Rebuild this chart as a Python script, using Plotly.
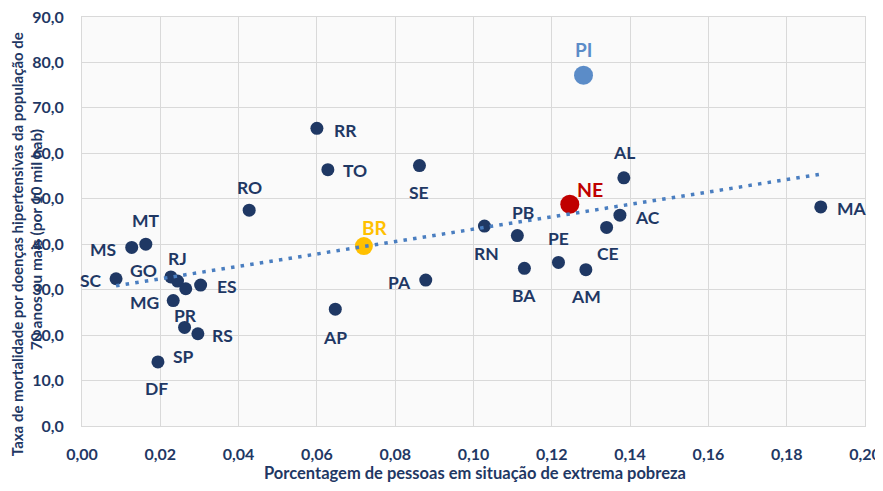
import numpy as np
import plotly.graph_objects as go

# ---- data ----
states = ["SC", "MS", "MT", "GO", "RJ", "PR", "ES", "MG", "SP", "RS", "DF",
          "RO", "RR", "TO", "AP", "SE", "PA", "RN", "PB", "BA", "PE", "AM",
          "CE", "AC", "AL", "MA", "PI"]
poverty = [0.0087, 0.0127, 0.0163, 0.0227, 0.0244, 0.0265, 0.0303, 0.0233, 0.0262, 0.0296, 0.0194,
           0.0427, 0.0600, 0.0628, 0.0647, 0.0862, 0.0878, 0.1028, 0.1112, 0.1130, 0.1217, 0.1287,
           0.1340, 0.1374, 0.1384, 0.1887, 0.1281]
mortality = [32.4, 39.3, 40.0, 32.8, 31.9, 30.2, 31.0, 27.6, 21.7, 20.3, 14.1,
             47.5, 65.5, 56.4, 25.7, 57.3, 32.1, 44.0, 41.9, 34.7, 36.0, 34.4,
             43.7, 46.4, 54.6, 48.2, 77.2]
ne_label, ne_x, ne_y = "NE", 0.1246, 48.8
br_label, br_x, br_y = "BR", 0.0720, 39.6

x_ticks = [0.00, 0.02, 0.04, 0.06, 0.08, 0.10, 0.12, 0.14, 0.16, 0.18, 0.20]
y_ticks = [0, 10, 20, 30, 40, 50, 60, 70, 80, 90]

# ---- styles ----
NAVY = "#1F3864"
PI_COL = "#5B8CC8"
NE_COL = "#C00000"
BR_COL = "#FFC000"
TREND_COL = "#4A7EC0"
FONT = "Lato"

# label offsets in screen pixels (dx right, dy down)
label_offset = {
    "SC": (-25, 2), "MS": (-29, 2), "MT": (0, -24), "GO": (-27, -6), "RJ": (0, -23),
    "PR": (0, 27), "ES": (26, 1), "MG": (-29, 2), "SP": (-1, 29), "RS": (25, 2),
    "DF": (-1, 27), "RO": (0, -23), "RR": (29, 2), "TO": (27, 1), "AP": (0, 28),
    "SE": (0, 27), "PA": (-26, 2), "RN": (2, 27), "PB": (6, -23), "BA": (0, 27),
    "PE": (0, -24), "AM": (0, 27), "CE": (1, 26), "AC": (28, 2), "AL": (0, -25),
    "MA": (31, 2), "PI": (0, -26),
}

fig = go.Figure()

colors = [PI_COL if s == "PI" else NAVY for s in states]
sizes = [19 if s == "PI" else 13 for s in states]
fig.add_trace(go.Scatter(x=poverty, y=mortality, mode="markers",
                         marker=dict(color=colors, size=sizes, opacity=1, line=dict(width=0)),
                         showlegend=False, hoverinfo="skip"))
fig.add_trace(go.Scatter(x=[ne_x], y=[ne_y], mode="markers",
                         marker=dict(color=NE_COL, size=19, opacity=1, line=dict(width=0)),
                         showlegend=False))
fig.add_trace(go.Scatter(x=[br_x], y=[br_y], mode="markers",
                         marker=dict(color=BR_COL, size=18, opacity=1, line=dict(width=0)),
                         showlegend=False))

# linear trendline over the states
slope, intercept = np.polyfit(poverty, mortality, 1)
tx = [min(poverty), max(poverty)]
ty = [slope * v + intercept for v in tx]
fig.add_trace(go.Scatter(x=tx, y=ty, mode="lines",
                         line=dict(color=TREND_COL, width=3.5, dash="3.5px,6.2px"),
                         showlegend=False, hoverinfo="skip"))

annotations = []
for s, xv, yv in zip(states, poverty, mortality):
    dx, dy = label_offset[s]
    big = s == "PI"
    annotations.append(dict(x=xv, y=yv, xref="x", yref="y", text=s, showarrow=False,
                            xshift=dx, yshift=-dy,
                            font=dict(family=FONT, size=19 if big else 17.5,
                                      color=PI_COL if big else NAVY, weight="bold")))
annotations.append(dict(x=ne_x, y=ne_y, xref="x", yref="y", text=ne_label, showarrow=False,
                        xshift=20, yshift=15,
                        font=dict(family=FONT, size=19.5, color=NE_COL, weight="bold")))
annotations.append(dict(x=br_x, y=br_y, xref="x", yref="y", text=br_label, showarrow=False,
                        xshift=11, yshift=19,
                        font=dict(family=FONT, size=19, color=BR_COL, weight="bold")))

# axis titles
annotations.append(dict(x=(475 - 82) / 783, y=(425.7 - 473) / 408.7, xref="paper", yref="paper",
                        text="Porcentagem de pessoas em situação de extrema pobreza",
                        showarrow=False, xanchor="center", yanchor="middle",
                        font=dict(family=FONT, size=16.5, color=NAVY, weight="bold")))
annotations.append(dict(x=(17 - 82) / 783, y=(425.7 - 244) / 408.7, xref="paper", yref="paper",
                        text="Taxa de mortalidade por doenças hipertensivas da população de",
                        textangle=-90, showarrow=False, xanchor="center", yanchor="middle",
                        font=dict(family=FONT, size=15, color=NAVY, weight="bold")))
annotations.append(dict(x=(36 - 82) / 783, y=(425.7 - 240) / 408.7, xref="paper", yref="paper",
                        text="70 anos ou mais (por 10 mil hab)",
                        textangle=-90, showarrow=False, xanchor="center", yanchor="middle",
                        font=dict(family=FONT, size=15.5, color=NAVY, weight="bold")))

# page body has an 8px margin; figure is sized/offset to compensate
fig.update_layout(
    width=875, height=483,
    margin=dict(l=74, r=18, t=9, b=65, autoexpand=False),
    paper_bgcolor="white", plot_bgcolor="#FAFAFA",
    separators=",.",
    showlegend=False,
    annotations=annotations,
    xaxis=dict(range=[0, 0.2], tickvals=x_ticks, tickformat=".2f", automargin=False,
               showgrid=True, gridcolor="#D9D9D9", gridwidth=1,
               showline=True, linecolor="#D9D9D9", linewidth=1, mirror=True,
               zeroline=False, ticks="", ticklabelstandoff=14, ticklabeloverflow="allow",
               tickfont=dict(family=FONT, size=16, color=NAVY, weight="bold")),
    yaxis=dict(range=[0, 90], tickvals=y_ticks, tickformat=".1f", automargin=False,
               showgrid=True, gridcolor="#D9D9D9", gridwidth=1,
               showline=True, linecolor="#D9D9D9", linewidth=1, mirror=True,
               zeroline=False, ticks="", ticklabelstandoff=14, ticklabeloverflow="allow",
               tickfont=dict(family=FONT, size=16, color=NAVY, weight="bold")),
)

fig.write_html("out.html")
